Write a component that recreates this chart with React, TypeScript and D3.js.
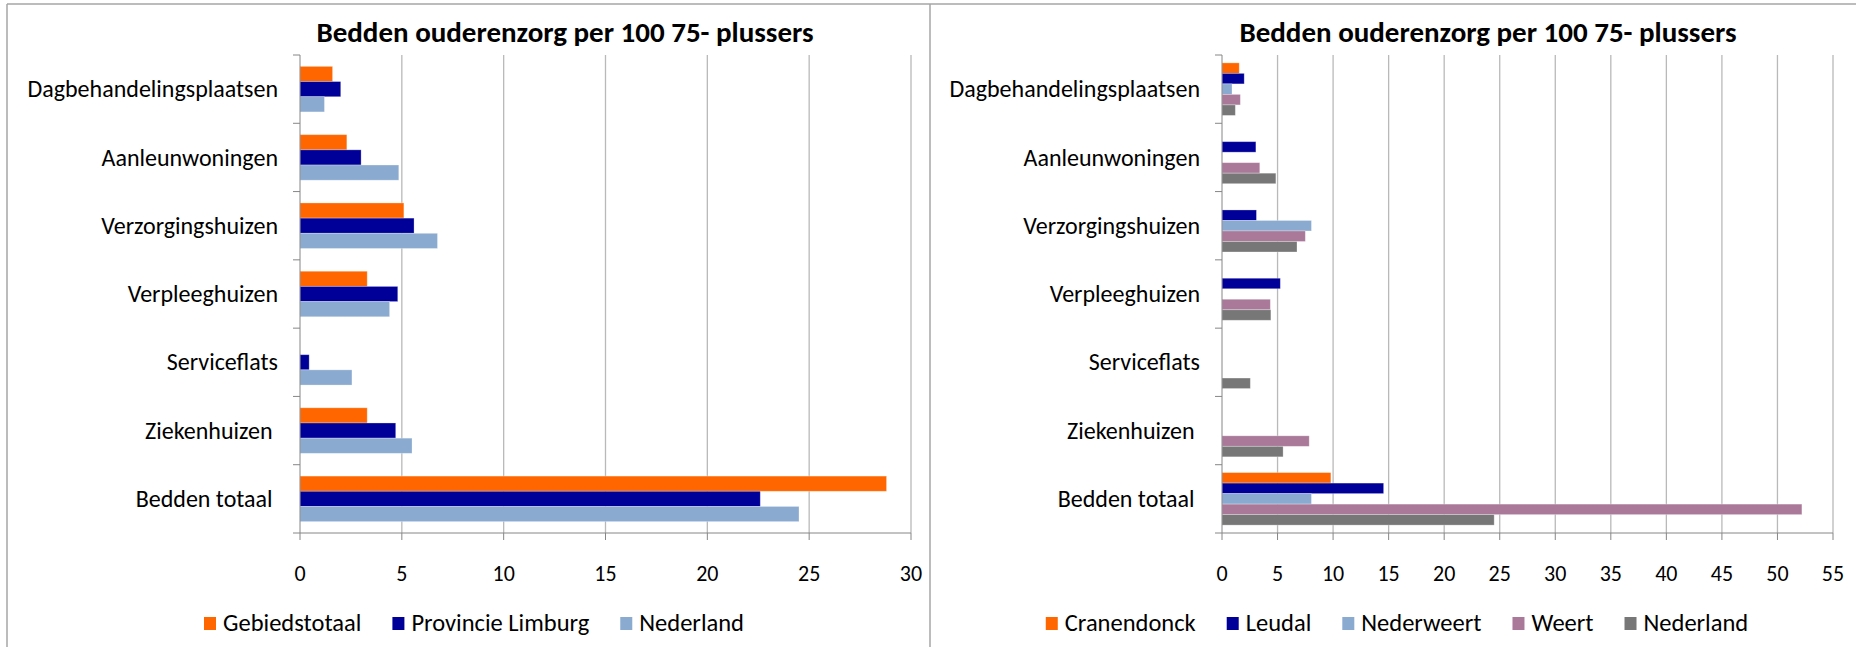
import React, { useEffect, useRef } from 'react';
import * as d3 from 'd3';

const categories = [
    'Dagbehandelingsplaatsen',
    'Aanleunwoningen',
    'Verzorgingshuizen',
    'Verpleeghuizen',
    'Serviceflats',
    'Ziekenhuizen ',
    'Bedden totaal ',
];

const chartTitle = 'Bedden ouderenzorg per 100 75- plussers';

// left chart
const leftSeries = ['Gebiedstotaal', 'Provincie Limburg', 'Nederland'];
const gebiedstotaal = [1.6, 2.3, 5.1, 3.3, 0, 3.3, 28.8];
const provincieLimburg = [2.0, 3.0, 5.6, 4.8, 0.45, 4.7, 22.6];
const nederland = [1.2, 4.85, 6.75, 4.4, 2.55, 5.5, 24.5];
const leftTicks = [0, 5, 10, 15, 20, 25, 30];

// right chart
const rightSeries = ['Cranendonck', 'Leudal', 'Nederweert', 'Weert', 'Nederland'];
const cranendonck = [1.55, 0, 0, 0, 0, 0, 9.8];
const leudal = [2.0, 3.05, 3.1, 5.25, 0, 0, 14.55];
const nederweert = [0.9, 0, 8.05, 0, 0, 0, 8.05];
const weert = [1.65, 3.4, 7.5, 4.35, 0, 7.85, 52.2];
const rightTicks = [0, 5, 10, 15, 20, 25, 30, 35, 40, 45, 50, 55];

const colors = {
    orange: '#ff6600',
    navy: '#000099',
    sky: '#8aaad0',
    mauve: '#aa7899',
    grey: '#777777',
};

const FONT = 'Carlito, Lato, sans-serif';

type PanelSpec = {
    series: string[];
    values: number[][];
    fills: string[];
    ticks: number[];
    plotLeft: number;
    plotRight: number;
    titleX: number;
    legendX: number;
};

const panels: PanelSpec[] = [
    {
        series: leftSeries,
        values: [gebiedstotaal, provincieLimburg, nederland],
        fills: [colors.orange, colors.navy, colors.sky],
        ticks: leftTicks,
        plotLeft: 300,
        plotRight: 911,
        titleX: 565,
        legendX: 474,
    },
    {
        series: rightSeries,
        values: [cranendonck, leudal, nederweert, weert, nederland],
        fills: [colors.orange, colors.navy, colors.sky, colors.mauve, colors.grey],
        ticks: rightTicks,
        plotLeft: 1222,
        plotRight: 1833,
        titleX: 1488,
        legendX: 1397,
    },
];

const WIDTH = 1856;
const HEIGHT = 647;
const plotTop = 55;
const plotBottom = 533;

function drawPanel(svg: d3.Selection<SVGSVGElement, unknown, null, undefined>, p: PanelSpec) {
    const g = svg.append('g');

    const x = d3.scaleLinear()
        .domain([0, p.ticks[p.ticks.length - 1]])
        .range([p.plotLeft, p.plotRight]);

    const y0 = d3.scaleBand<string>()
        .domain(categories)
        .range([plotTop, plotBottom])
        .padding(0);

    // Excel style gap width 150%
    const y1 = d3.scaleBand<string>()
        .domain(p.series)
        .range([0, y0.bandwidth()])
        .paddingInner(0)
        .paddingOuter(0.75);

    // gridlines
    g.append('g')
        .selectAll('line')
        .data(p.ticks.slice(1))
        .join('line')
        .attr('x1', d => x(d))
        .attr('x2', d => x(d))
        .attr('y1', plotTop)
        .attr('y2', plotBottom)
        .attr('stroke', '#b9b9b9')
        .attr('stroke-width', 1.3);

    // bars
    p.series.forEach((name, si) => {
        g.append('g')
            .selectAll('rect')
            .data(p.values[si].map((v, i) => ({ v, cat: categories[i] })).filter(d => d.v > 0))
            .join('rect')
            .attr('x', x(0))
            .attr('y', d => (y0(d.cat) ?? 0) + (y1(name) ?? 0))
            .attr('width', d => x(d.v) - x(0))
            .attr('height', y1.bandwidth())
            .attr('fill', p.fills[si])
            .attr('stroke', 'rgba(255,255,255,0.35)')
            .attr('stroke-width', 0.8);
    });

    // axes
    const axisColor = '#868686';
    g.append('line')
        .attr('x1', x(0)).attr('x2', x(0))
        .attr('y1', plotTop).attr('y2', plotBottom)
        .attr('stroke', axisColor);
    g.append('line')
        .attr('x1', x(0) - 7).attr('x2', p.plotRight)
        .attr('y1', plotBottom).attr('y2', plotBottom)
        .attr('stroke', axisColor);

    const catEdges = categories.map(c => y0(c) ?? 0);
    g.append('g')
        .selectAll('line')
        .data(catEdges)
        .join('line')
        .attr('x1', x(0) - 7).attr('x2', x(0))
        .attr('y1', d => d).attr('y2', d => d)
        .attr('stroke', axisColor);

    g.append('g')
        .selectAll('line')
        .data(p.ticks)
        .join('line')
        .attr('x1', d => x(d)).attr('x2', d => x(d))
        .attr('y1', plotBottom).attr('y2', plotBottom + 7)
        .attr('stroke', axisColor);

    // labels
    g.append('g')
        .selectAll('text')
        .data(categories)
        .join('text')
        .attr('x', x(0) - 22)
        .attr('y', d => (y0(d) ?? 0) + y0.bandwidth() / 2)
        .attr('dy', '0.34em')
        .attr('text-anchor', 'end')
        .style('white-space', 'pre')
        .style('font-family', FONT)
        .style('font-size', '24px')
        .attr('fill', '#000')
        .text(d => d);

    g.append('g')
        .selectAll('text')
        .data(p.ticks)
        .join('text')
        .attr('x', d => x(d))
        .attr('y', 581)
        .attr('text-anchor', 'middle')
        .style('font-family', FONT)
        .style('font-size', '22px')
        .attr('fill', '#000')
        .text(d => d);

    g.append('text')
        .attr('x', p.titleX)
        .attr('y', 42)
        .attr('text-anchor', 'middle')
        .style('font-family', FONT)
        .style('font-size', '29px')
        .style('font-weight', 'bold')
        .attr('fill', '#000')
        .text(chartTitle);

    // legend, centred on legendX
    const legend = g.append('g');
    const items = p.series.map((name, i) => {
        const item = legend.append('g');
        item.append('rect')
            .attr('width', 12)
            .attr('height', 13)
            .attr('y', -14)
            .attr('fill', p.fills[i]);
        const t = item.append('text')
            .attr('x', 19)
            .style('font-family', FONT)
            .style('font-size', '24.5px')
            .attr('fill', '#000')
            .text(name);
        const w = 19 + (t.node() as SVGTextElement).getComputedTextLength();
        return { item, w };
    });
    const gap = 31;
    const total = d3.sum(items, d => d.w) + gap * (items.length - 1);
    let cx = p.legendX - total / 2;
    items.forEach(({ item, w }) => {
        item.attr('transform', `translate(${cx},631)`);
        cx += w + gap;
    });
}

const App = () => {
    const svgRef = useRef<SVGSVGElement>(null);

    useEffect(() => {
        if (!svgRef.current) return;
        const svg = d3.select(svgRef.current);
        svg.selectAll('*').remove();

        // chart frames
        const frame = svg.append('g').attr('stroke', '#a6a6a6').attr('stroke-width', 1.5).attr('fill', 'none');
        frame.append('line').attr('x1', 7).attr('x2', WIDTH).attr('y1', 4).attr('y2', 4);
        frame.append('line').attr('x1', 7).attr('x2', 7).attr('y1', 4).attr('y2', HEIGHT);
        frame.append('line').attr('x1', 930).attr('x2', 930).attr('y1', 4).attr('y2', HEIGHT);

        panels.forEach(p => drawPanel(svg, p));
    }, []);

    return (
        <div style={{ position: 'absolute', left: 0, top: 0 }}>
            <svg ref={svgRef} width={WIDTH} height={HEIGHT} style={{ display: 'block', background: '#fff' }} />
        </div>
    );
};

export default App;
